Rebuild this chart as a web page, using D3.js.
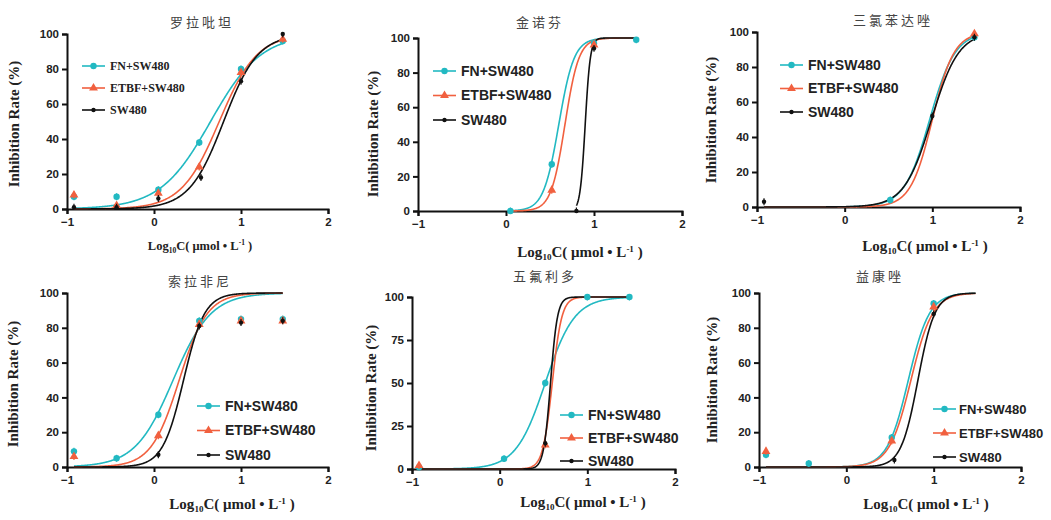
<!DOCTYPE html>
<html lang="zh">
<head>
<meta charset="UTF-8">
<title>Inhibition curves</title>
<script src="https://cdn.jsdelivr.net/npm/d3@7"></script>
<style>
  body { margin: 0; background: #fff; }
  .tick text { font-family: Arial, "Liberation Sans", sans-serif; font-weight: bold; font-size: 11.5px; fill: #222; }
</style>
</head>
<body>
<script>
// drug names (panel titles) and series names
var titles = ["罗拉吡坦", "金诺芬", "三氯苯达唑", "索拉非尼", "五氟利多", "益康唑"];
var seriesNames = ["FN+SW480", "ETBF+SW480", "SW480"];
var colors = ["#22b9c2", "#f1603f", "#111111"];
var xTicks = [-1, 0, 1, 2];
var yTicks = [[0, 20, 40, 60, 80, 100], [0, 20, 40, 60, 80, 100], [0, 20, 40, 60, 80, 100],
              [0, 20, 40, 60, 80, 100], [0, 25, 50, 75, 100], [0, 20, 40, 60, 80, 100]];

// measured points [log10 C, inhibition %] per panel, per series (FN, ETBF, SW480)
var points1 = [[[-0.92, 7], [-0.43, 7], [0.05, 11], [0.52, 38], [1.0, 80], [1.48, 96]],
               [[-0.92, 8], [-0.43, 2], [0.05, 9], [0.52, 24], [1.0, 78], [1.48, 97]],
               [[-0.92, 1], [-0.43, 1], [0.05, 6], [0.54, 18], [1.0, 73], [1.48, 100]]];
var points2 = [[[0.05, 0], [0.52, 27], [1.0, 97], [1.48, 99]],
               [[0.52, 12], [1.0, 96]],
               [[0.8, 0], [1.0, 94]]];
var points3 = [[[0.52, 4], [1.48, 97]],
               [[1.48, 99]],
               [[-0.92, 3], [1.0, 52], [1.48, 97]]];
var points4 = [[[-0.92, 9], [-0.43, 5], [0.05, 30], [0.52, 84], [1.0, 85], [1.48, 85]],
               [[-0.92, 6], [0.05, 18], [0.52, 82], [1.0, 84], [1.48, 84]],
               [[0.05, 7], [0.52, 81], [1.0, 83], [1.48, 84]]];
var points5 = [[[-0.92, 1], [0.05, 6], [0.52, 50], [1.0, 100], [1.48, 100]],
               [[-0.92, 2], [0.52, 14]],
               [[0.52, 15]]];
var points6 = [[[-0.92, 7], [-0.43, 2], [0.52, 17], [1.0, 94]],
               [[-0.92, 9], [0.52, 15], [1.0, 92]],
               [[0.55, 4], [1.0, 88]]];
var allPoints = [points1, points2, points3, points4, points5, points6];

// fitted dose-response curves: logEC50, Hill slope, fitted range
var fitEC50 = [[0.65, 0.75, 0.80], [0.60, 0.67, 0.90], [0.97, 1.00, 0.99],
               [0.22, 0.29, 0.34], [0.52, 0.60, 0.58], [0.71, 0.74, 0.82]];
var fitHill = [[1.5, 2.0, 2.2], [5.0, 5.5, 15], [3.0, 3.5, 2.8],
               [2.0, 2.7, 3.6], [2.6, 8.0, 11], [3.6, 3.5, 4.5]];
var fitRange = [[[-0.92, 1.48], [-0.92, 1.48], [-0.92, 1.48]],
                [[0.05, 1.48], [0.05, 1.48], [0.8, 1.48]],
                [[-0.92, 1.48], [-0.92, 1.48], [-0.92, 1.48]],
                [[-0.92, 1.48], [-0.92, 1.48], [-0.92, 1.48]],
                [[-0.92, 1.48], [-0.92, 1.48], [-0.92, 1.48]],
                [[-0.92, 1.48], [-0.92, 1.48], [-0.92, 1.48]]];

// panel layout
var layout = [
  {x0: 67,  x1: 328,  y0: 209, y1: 34,  tx: 202, ty: 27,  ylx: 19,  yly: 124, xlx: 200, xly: 250, xfs: 12.5, lx: 82,  ly: 66,  ldy: 22, lfs: 12, lgap: 28, serif: true},
  {x0: 418, x1: 682,  y0: 211, y1: 38,  tx: 540, ty: 27,  ylx: 378, yly: 134, xlx: 580, xly: 257, xfs: 15, lx: 433, ly: 71,  ldy: 24.5, lfs: 14, lgap: 28, serif: false},
  {x0: 757, x1: 1020, y0: 207, y1: 32,  tx: 893, ty: 25,  ylx: 716, yly: 120, xlx: 925, xly: 251, xfs: 15, lx: 780, ly: 65,  ldy: 23.5, lfs: 14, lgap: 28, serif: false},
  {x0: 67,  x1: 328,  y0: 467, y1: 293, tx: 200, ty: 286, ylx: 18,  yly: 384, xlx: 232, xly: 509, xfs: 15, lx: 197, ly: 406, ldy: 24.5, lfs: 14, lgap: 28, serif: false},
  {x0: 412, x1: 675,  y0: 469, y1: 297, tx: 545, ty: 281, ylx: 376, yly: 388, xlx: 583, xly: 507, xfs: 15, lx: 560, ly: 415, ldy: 23, lfs: 14, lgap: 28, serif: false},
  {x0: 759, x1: 1021, y0: 467, y1: 293, tx: 880, ty: 281, ylx: 717, yly: 380, xlx: 926, xly: 509, xfs: 15, lx: 933, ly: 409, ldy: 24, lfs: 13, lgap: 26, serif: false}
];

var svg = d3.select("body").append("svg")
  .attr("width", 1051).attr("height", 520)
  .style("font-family", "Arial, 'Liberation Sans', sans-serif");

function marker(g, k, cx, cy, c) {
  if (k === 0) {
    g.append("circle").attr("cx", cx).attr("cy", cy).attr("r", 3.2).attr("fill", c);
  } else if (k === 1) {
    g.append("path").attr("d", d3.symbol(d3.symbolTriangle, 34)())
      .attr("transform", "translate(" + cx + "," + cy + ")").attr("fill", c);
  } else {
    g.append("circle").attr("cx", cx).attr("cy", cy).attr("r", 2.2).attr("fill", c);
  }
}

layout.forEach(function(L, p) {
  var g = svg.append("g");
  var x = d3.scaleLinear().domain([-1, 2]).range([L.x0, L.x1]);
  var y = d3.scaleLinear().domain([0, 100]).range([L.y0, L.y1]);

  // axes
  g.append("g").attr("transform", "translate(0," + L.y0 + ")")
    .call(d3.axisBottom(x).tickValues(xTicks).tickSizeOuter(0).tickSize(5).tickPadding(4).tickFormat(d3.format("d")))
    .call(function(a) { a.selectAll("line,path").attr("stroke", "#111").attr("stroke-width", 2); });
  g.append("g").attr("transform", "translate(" + L.x0 + ",0)")
    .call(d3.axisLeft(y).tickValues(yTicks[p]).tickSizeOuter(0).tickSize(5).tickPadding(3))
    .call(function(a) { a.selectAll("line,path").attr("stroke", "#111").attr("stroke-width", 2); });

  // title
  g.append("text").attr("x", L.tx).attr("y", L.ty).attr("text-anchor", "middle")
    .attr("font-family", "'Noto Sans CJK SC', sans-serif").attr("font-size", 13)
    .attr("fill", "#444").attr("letter-spacing", 3).text(titles[p]);

  // y label
  g.append("text").attr("transform", "translate(" + L.ylx + "," + L.yly + ") rotate(-90)")
    .attr("text-anchor", "middle").attr("font-family", "'Liberation Serif', serif")
    .attr("font-weight", "bold").attr("font-size", 15).attr("fill", "#222")
    .text("Inhibition Rate (%)");

  // x label
  var xl = g.append("text").attr("x", L.xlx).attr("y", L.xly).attr("text-anchor", "middle")
    .attr("font-family", "'Liberation Serif', serif").attr("font-weight", "bold")
    .attr("font-size", L.xfs).attr("fill", "#222");
  xl.append("tspan").text("Log");
  xl.append("tspan").attr("font-size", L.xfs * 0.6).attr("dy", 3).text("10");
  xl.append("tspan").attr("dy", -3).text("C( μmol • L");
  xl.append("tspan").attr("font-size", L.xfs * 0.6).attr("dy", -5).text("-1");
  xl.append("tspan").attr("dy", 5).text(" )");

  // curves
  var line = d3.line().x(function(d) { return x(d[0]); }).y(function(d) { return y(d[1]); });
  [0, 1, 2].forEach(function(k) {
    var r = fitRange[p][k], e = fitEC50[p][k], h = fitHill[p][k];
    var pts = d3.range(r[0], r[1] + 1e-9, 0.005).map(function(v) {
      return [v, 100 / (1 + Math.pow(10, (e - v) * h))];
    });
    g.append("path").datum(pts).attr("d", line).attr("fill", "none")
      .attr("stroke", colors[k]).attr("stroke-width", 1.6);
  });

  // points with small error bars
  [0, 1, 2].forEach(function(k) {
    allPoints[p][k].forEach(function(d) {
      g.append("line").attr("x1", x(d[0])).attr("x2", x(d[0]))
        .attr("y1", y(Math.max(0, d[1] - 2))).attr("y2", y(Math.min(100, d[1] + 2)))
        .attr("stroke", colors[k]).attr("stroke-width", 1.2);
      marker(g, k, x(d[0]), y(d[1]), colors[k]);
    });
  });

  // legend
  seriesNames.forEach(function(s, k) {
    var ly = L.ly + k * L.ldy;
    g.append("line").attr("x1", L.lx).attr("x2", L.lx + 23).attr("y1", ly).attr("y2", ly)
      .attr("stroke", colors[k]).attr("stroke-width", 1.6);
    marker(g, k, L.lx + 11.5, ly, colors[k]);
    g.append("text").attr("x", L.lx + L.lgap).attr("y", ly).attr("dy", "0.35em")
      .attr("font-family", L.serif ? "'Liberation Serif', serif" : "Arial, 'Liberation Sans', sans-serif")
      .attr("font-weight", "bold").attr("font-size", L.lfs).attr("fill", "#222").text(s);
  });
});
</script>
</body>
</html>
